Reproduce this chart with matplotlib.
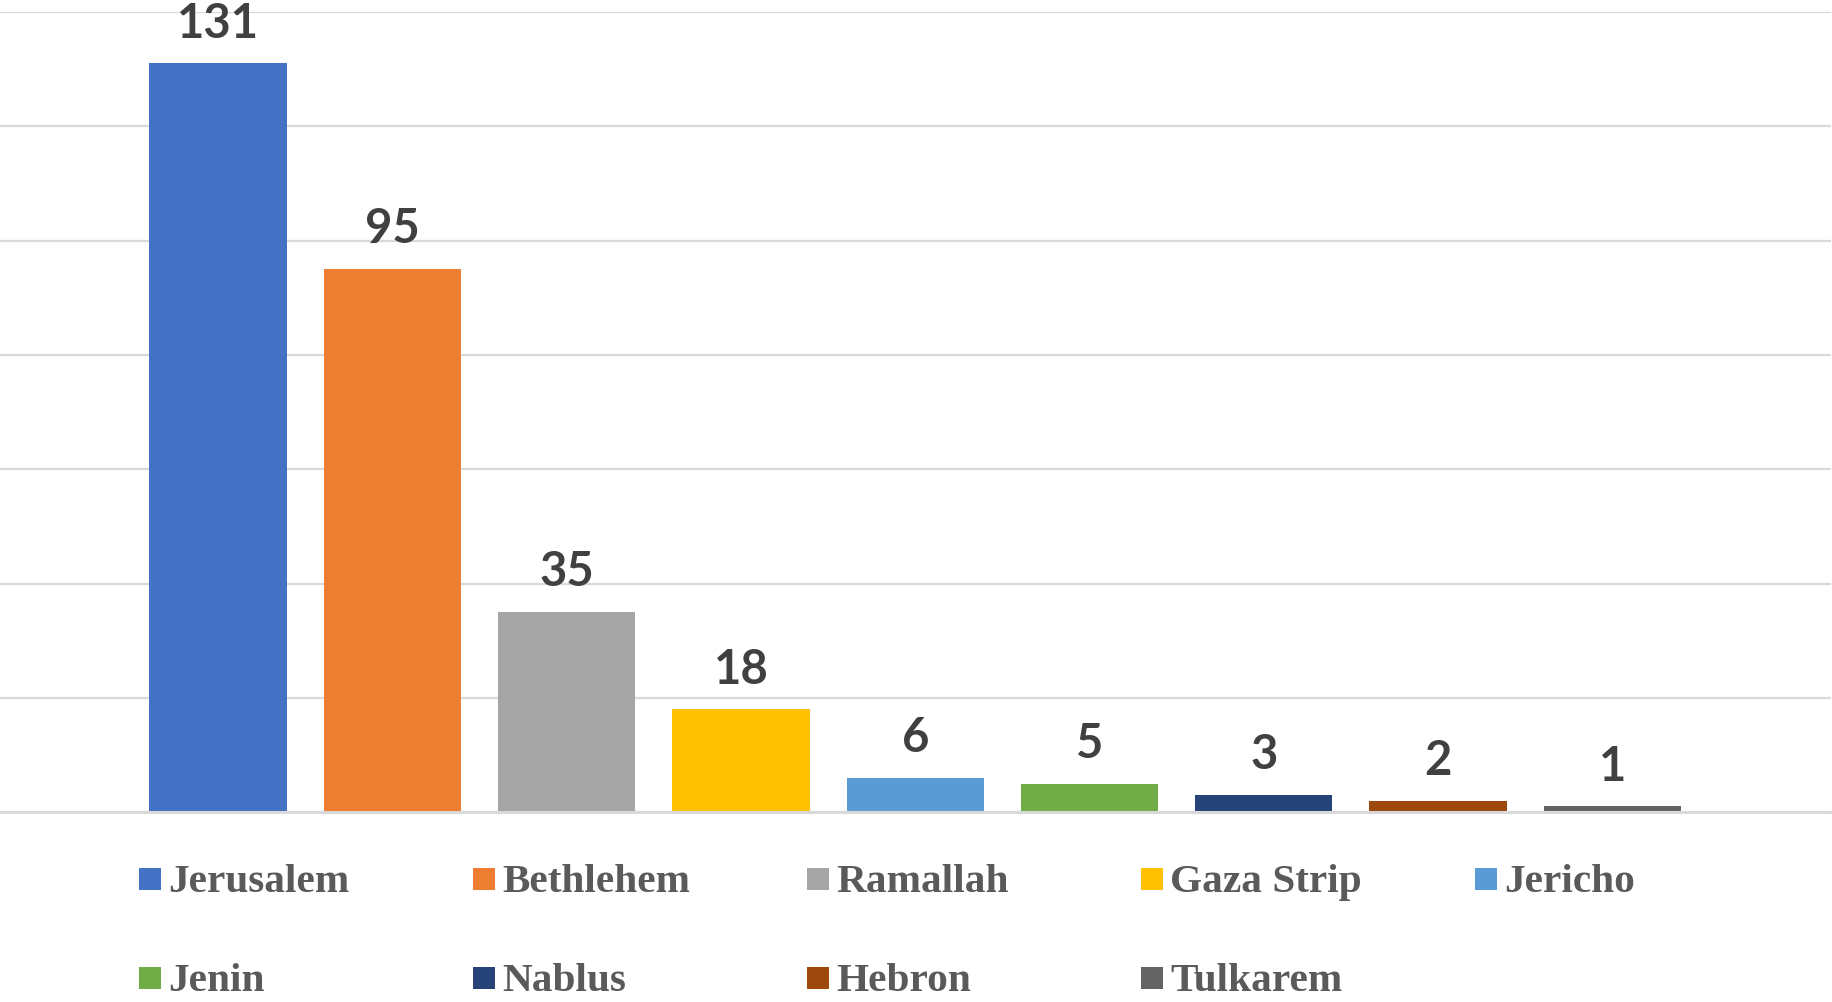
import matplotlib
matplotlib.use("Agg")
import matplotlib.pyplot as plt
from matplotlib.patches import Rectangle

categories = ["Jerusalem", "Bethlehem", "Ramallah", "Gaza Strip", "Jericho",
              "Jenin", "Nablus", "Hebron", "Tulkarem"]
values = [131, 95, 35, 18, 6, 5, 3, 2, 1]
colors = ["#4472C4", "#ED7D31", "#A5A5A5", "#FFC000", "#5B9BD5",
          "#70AD47", "#264478", "#9E480E", "#636363"]
y_ticks = [0, 20, 40, 60, 80, 100, 120, 140]

W, H = 1832, 1003
fig = plt.figure(figsize=(W / 100, H / 100), dpi=100)
ax = fig.add_axes([0, (H - 813.2) / H, 1831 / W, (813.2 - 12.9) / H])

x = list(range(len(categories)))
bars = ax.bar(x, values, width=0.788, color=colors, zorder=3)
ax.set_xlim(-1.2507, 9.254)
ax.set_ylim(0, 140)
ax.set_yticks(y_ticks)
ax.yaxis.grid(True, color="#D9D9D9", linewidth=1.6, zorder=0)
ax.set_axisbelow(True)
ax.tick_params(left=False, bottom=False, labelleft=False, labelbottom=False)
for s in ["left", "right", "top"]:
    ax.spines[s].set_visible(False)
ax.spines["bottom"].set_color("#D9D9D9")
ax.spines["bottom"].set_linewidth(2.2)
ax.spines["bottom"].set_zorder(4)

for xi, v in zip(x, values):
    ax.annotate(str(v), xy=(xi, v), xytext=(0, 19.2), textcoords="offset points",
                ha="center", va="baseline", fontsize=34, fontweight="bold",
                family=["Lato", "DejaVu Sans"], color="#404040",
                annotation_clip=False, clip_on=False)

# legend (Excel-style uniform grid of entries)
col_pitch = 334.0
marker_x0 = 139.0
msize_w, msize_h = 22.0, 22.0
row_base = [892.0, 991.0]
for i, (name, c) in enumerate(zip(categories, colors)):
    r, col = divmod(i, 5)
    mx = marker_x0 + col * col_pitch
    base = row_base[r]
    my_top = base - 23.0
    fig.patches.append(Rectangle((mx / W, (H - my_top - msize_h) / H), msize_w / W, msize_h / H,
                                 transform=fig.transFigure, facecolor=c, edgecolor="none"))
    fig.text((mx + 29.5) / W, (H - base) / H, name, ha="left", va="baseline",
             fontsize=29.7, fontweight="bold",
             family=["Liberation Serif", "DejaVu Serif"], color="#5A5A5A")

fig.savefig("out.png", dpi=100, facecolor="white")
